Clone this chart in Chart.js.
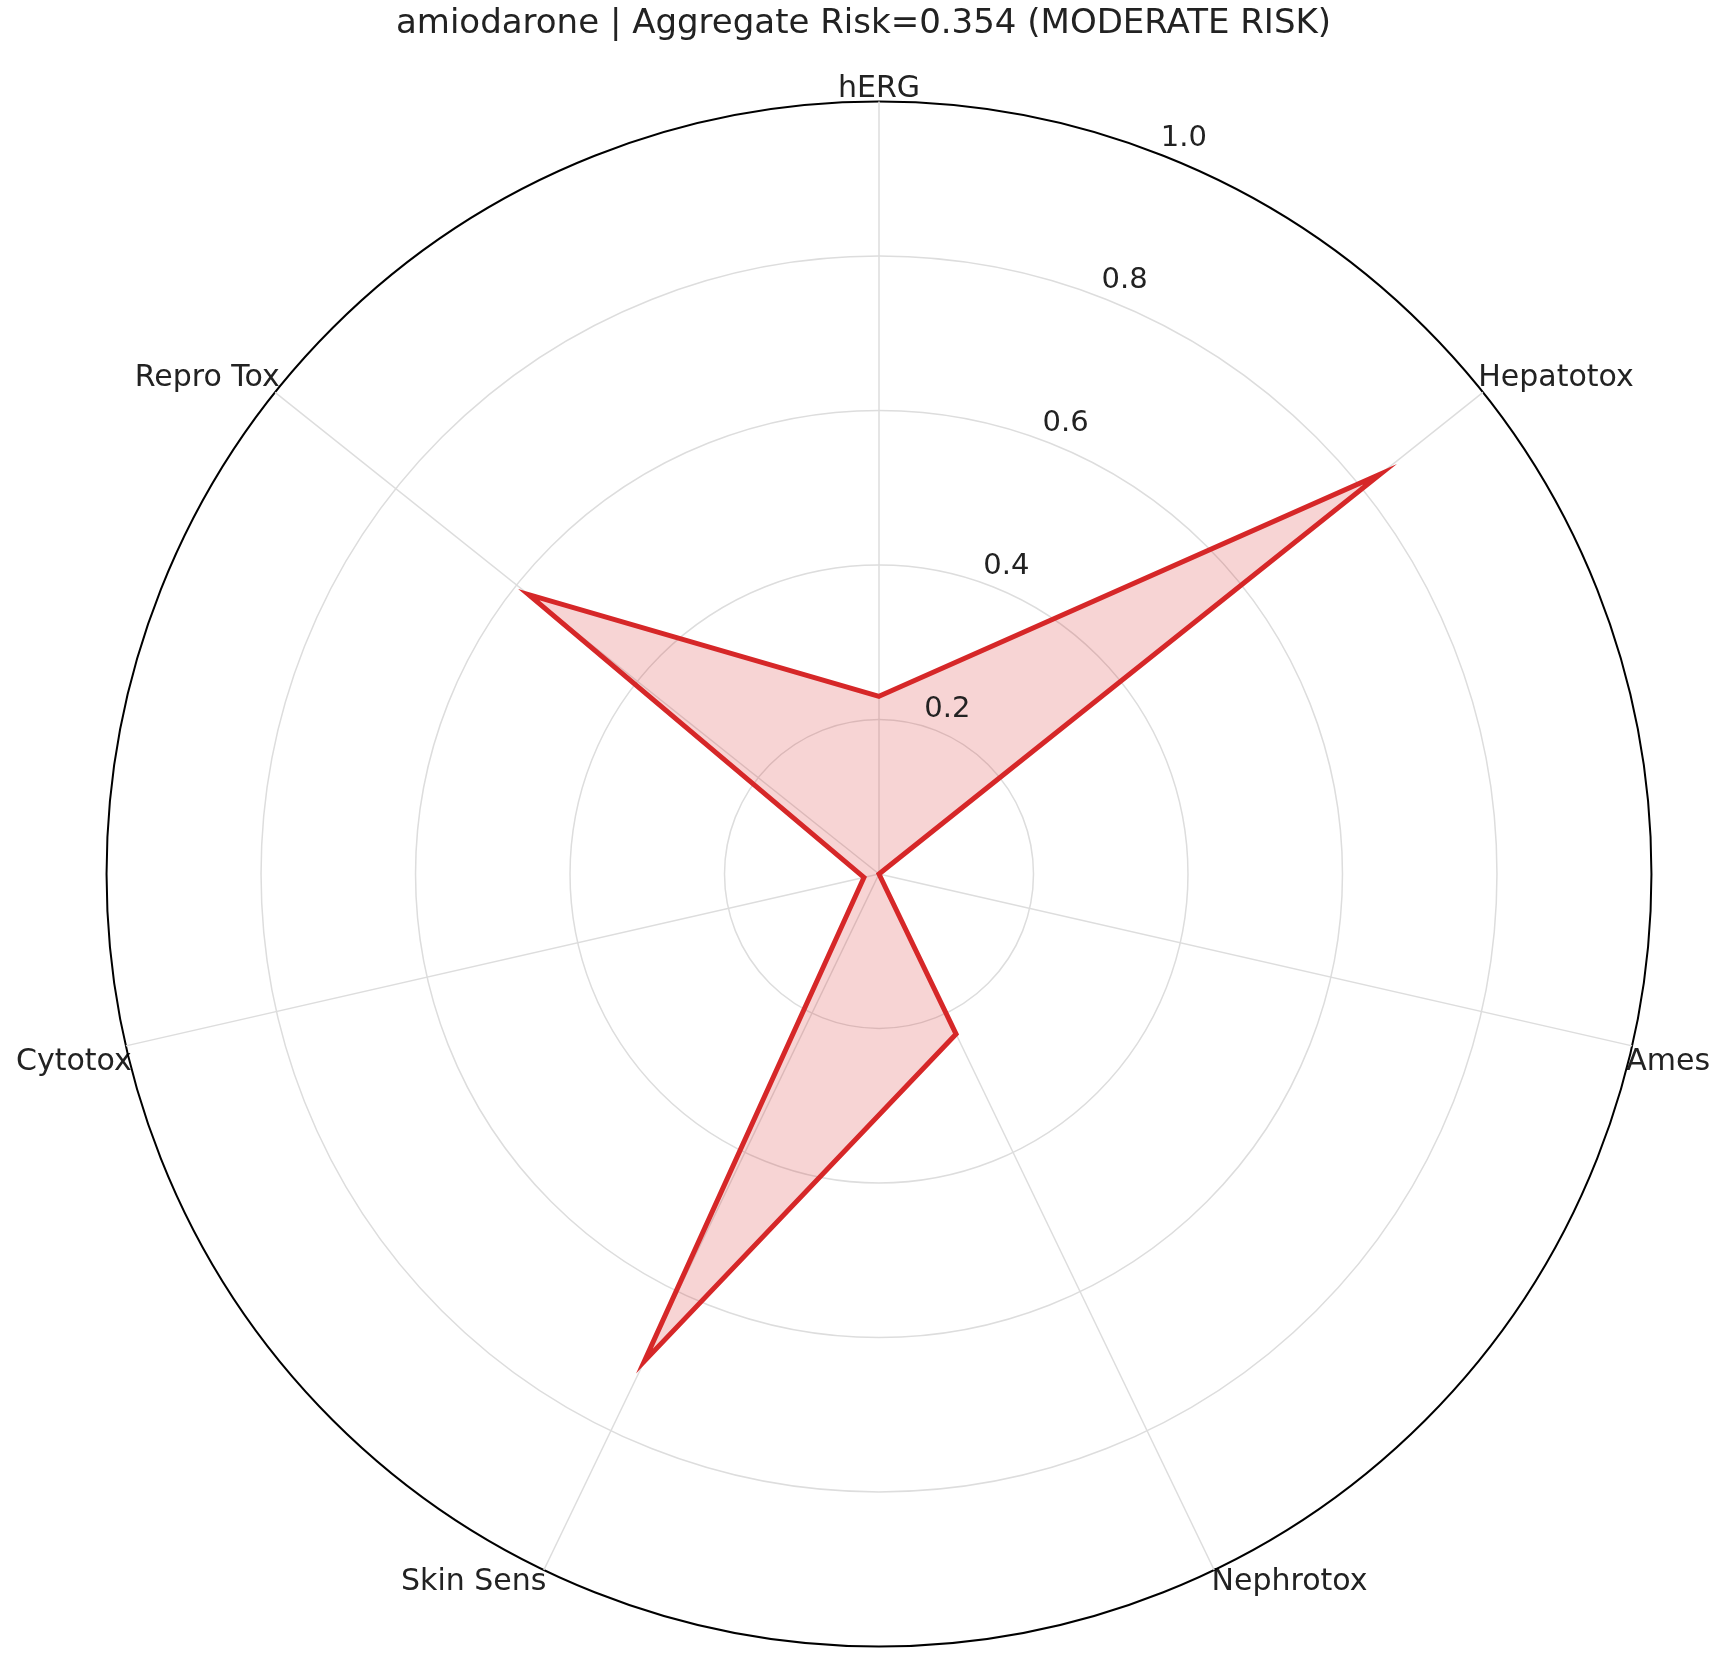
<!DOCTYPE html>
<html>
<head>
<script src="https://cdn.jsdelivr.net/npm/chart.js@4"></script>
<style>
  body { margin: 0; background: #fff; }
  #wrap { width: 1727px; height: 1675px; }
</style>
</head>
<body>
<div id="wrap"><canvas id="radar"></canvas></div>
<script>
const axes = ['hERG', 'Hepatotox', 'Ames', 'Nephrotox', 'Skin Sens', 'Cytotox', 'Repro Tox'];
const risk = [0.23, 0.83, 0.0, 0.23, 0.70, 0.02, 0.58];
const tickValues = [0.2, 0.4, 0.6, 0.8, 1.0];
const titleText = 'amiodarone | Aggregate Risk=0.354 (MODERATE RISK)';

const FONT = "'DejaVu Sans', sans-serif";

// tick labels sit on a slanted line like matplotlib's polar axis
const slantedTicks = {
    id: 'slantedTicks',
    afterDraw(chart) {
        const r = chart.scales.r;
        const ctx = chart.ctx;
        const ang = 22.5 * Math.PI / 180;
        ctx.save();
        ctx.font = '29px ' + FONT;
        ctx.fillStyle = '#222';
        ctx.textAlign = 'center';
        ctx.textBaseline = 'middle';
        tickValues.forEach(v => {
            const d = r.getDistanceFromCenterForValue(v) + 24;
            ctx.fillText(v.toFixed(1), r.xCenter + d * Math.sin(ang), r.yCenter - d * Math.cos(ang));
        });
        ctx.restore();
    }
};

new Chart(document.getElementById('radar'), {
    type: 'radar',
    data: {
        labels: axes,
        datasets: [{
            data: risk,
            borderColor: '#d62728',
            backgroundColor: 'rgba(214,39,40,0.2)',
            borderWidth: 5,
            pointRadius: 0,
            fill: true
        }]
    },
    options: {
        animation: false,
        responsive: true,
        maintainAspectRatio: false,
        layout: { padding: { left: 0, right: 0, top: 0, bottom: 0 } },
        plugins: {
            legend: { display: false },
            title: {
                display: true,
                text: titleText,
                color: '#222',
                font: { family: FONT, size: 34, weight: 'normal' },
                padding: { top: 4, bottom: 0 }
            }
        },
        scales: {
            r: {
                min: 0,
                max: 1,
                ticks: { display: false, stepSize: 0.2 },
                grid: {
                    circular: true,
                    color: ctx => ctx.index === 5 ? '#000' : '#dddddd',
                    lineWidth: ctx => ctx.index === 5 ? 2 : 1.5
                },
                angleLines: { color: '#dddddd', lineWidth: 1.5 },
                pointLabels: {
                    color: '#222',
                    padding: -6,
                    font: { family: FONT, size: 30 }
                }
            }
        }
    },
    plugins: [slantedTicks]
});
</script>
</body>
</html>
